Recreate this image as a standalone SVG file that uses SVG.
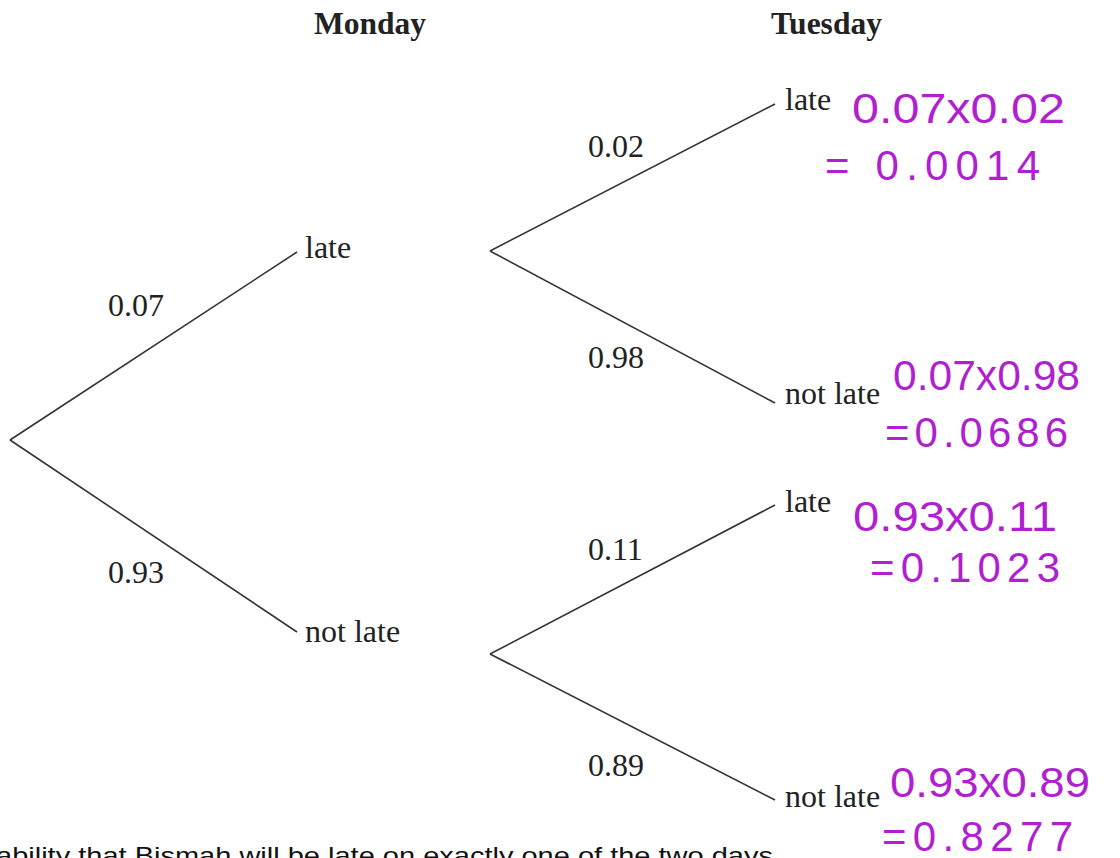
<svg xmlns="http://www.w3.org/2000/svg" width="1120" height="858" viewBox="0 0 1120 858">
<style>
.t{font-family:"Liberation Serif","Times New Roman",serif;font-size:32px;fill:#222}
.h{font-family:"Liberation Serif","Times New Roman",serif;font-size:31.5px;font-weight:bold;fill:#222}
.p{font-family:"Liberation Sans",Arial,sans-serif;font-size:42px;fill:#b01fd0}
.q{font-family:"Liberation Sans",Arial,sans-serif;font-size:24px;fill:#111}
.e{stroke:#333;stroke-width:1.6;fill:none}
</style>
<rect width="1120" height="858" fill="#fff"/>
<g id="headers">
<text class="h" x="314" y="34">Monday</text>
<text class="h" x="771" y="34">Tuesday</text>
</g>
<g id="connectors">
<path class="e" d="M10,440 L297,252"/>
<path class="e" d="M10,440 L297,632"/>
<path class="e" d="M490,251 L775,104"/>
<path class="e" d="M490,251 L775,403"/>
<path class="e" d="M490,654 L775,505"/>
<path class="e" d="M490,654 L775,800"/>
</g>
<g id="edge-labels">
<text class="t" x="108" y="316">0.07</text>
<text class="t" x="108" y="583">0.93</text>
<text class="t" x="588" y="157">0.02</text>
<text class="t" x="588" y="368">0.98</text>
<text class="t" x="588" y="560">0.11</text>
<text class="t" x="588" y="776">0.89</text>
</g>
<g id="mon-late"><text class="t" x="305" y="258">late</text></g>
<g id="mon-notlate"><text class="t" x="305" y="642">not late</text></g>
<g id="tue-late-1"><text class="t" x="785" y="110">late</text></g>
<g id="tue-notlate-1"><text class="t" x="785" y="404">not late</text></g>
<g id="tue-late-2"><text class="t" x="785" y="512">late</text></g>
<g id="tue-notlate-2"><text class="t" x="785" y="807">not late</text></g>
<g id="annotations">
<text class="p" x="852" y="123" textLength="213" lengthAdjust="spacingAndGlyphs">0.07x0.02</text>
<text class="p" x="825" y="180" textLength="215" lengthAdjust="spacing">= 0.0014</text>
<text class="p" x="893" y="390" textLength="187" lengthAdjust="spacingAndGlyphs">0.07x0.98</text>
<text class="p" x="885" y="447" textLength="183" lengthAdjust="spacing">=0.0686</text>
<text class="p" x="853" y="531" textLength="204" lengthAdjust="spacingAndGlyphs">0.93x0.11</text>
<text class="p" x="870" y="582" textLength="190" lengthAdjust="spacing">=0.1023</text>
<text class="p" x="890" y="797" textLength="200" lengthAdjust="spacingAndGlyphs">0.93x0.89</text>
<text class="p" x="882" y="851" font-size="40" textLength="191" lengthAdjust="spacing">=0.8277</text>
</g>
<g id="question">
<text class="q" x="-4" y="864" textLength="777" lengthAdjust="spacingAndGlyphs">ability that Bismah will be late on exactly one of the two days</text>
</g>
</svg>
